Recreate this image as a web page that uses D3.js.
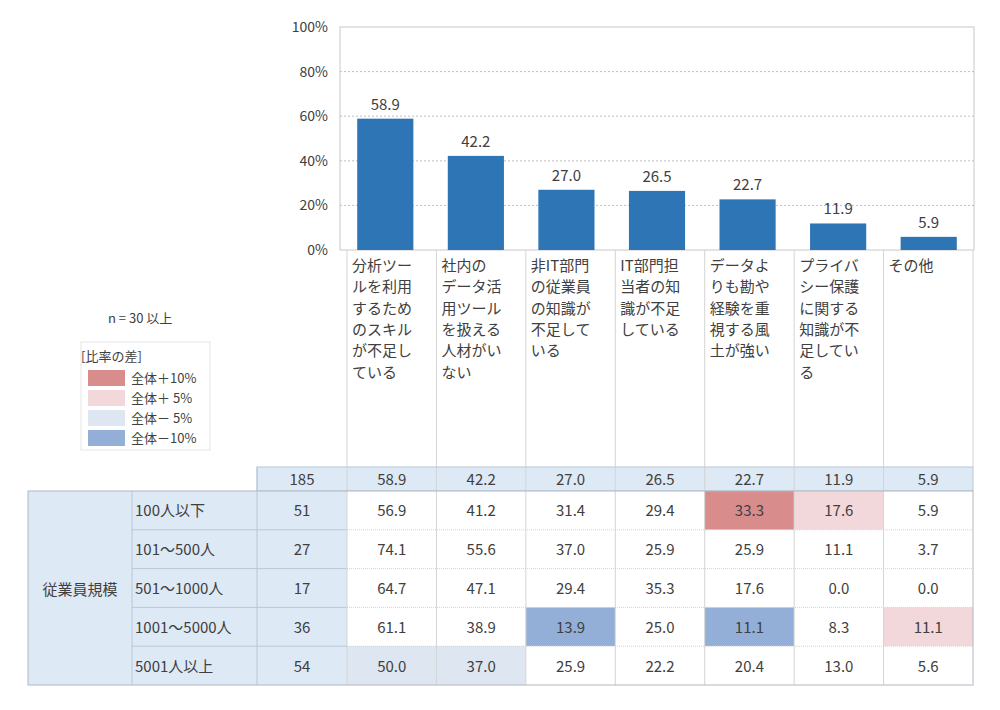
<!DOCTYPE html>
<html><head><meta charset="utf-8">
<script src="https://cdn.jsdelivr.net/npm/d3@7"></script>
<style>body{margin:0;background:#fff}text{font-family:"Noto Sans CJK JP",sans-serif;fill:#404040}</style>
</head><body><svg id="c" width="1000" height="710"></svg>
<script>
const categories=["分析ツールを利用するためのスキルが不足している","社内のデータ活用ツールを扱える人材がいない","非IT部門の従業員の知識が不足している","IT部門担当者の知識が不足している","データよりも勘や経験を重視する風土が強い","プライバシー保護に関する知識が不足している","その他"];
const labelLines=[["分析ツー","ルを利用","するため","のスキル","が不足し","ている"],["社内の","データ活","用ツール","を扱える","人材がい","ない"],["非IT部門","の従業員","の知識が","不足して","いる"],["IT部門担","当者の知","識が不足","している"],["データよ","りも勘や","経験を重","視する風","土が強い"],["プライバ","シー保護","に関する","知識が不","足してい","る"],["その他"]];
const totalN=185;
const totalValues=[58.9,42.2,27.0,26.5,22.7,11.9,5.9];
const groupLabel="従業員規模";
const rowLabels=["100人以下","101～500人","501～1000人","1001～5000人","5001人以上"];
const rowN=[51,27,17,36,54];
const rowValues=[[56.9,41.2,31.4,29.4,33.3,17.6,5.9],[74.1,55.6,37.0,25.9,25.9,11.1,3.7],[64.7,47.1,29.4,35.3,17.6,0.0,0.0],[61.1,38.9,13.9,25.0,11.1,8.3,11.1],[50.0,37.0,25.9,22.2,20.4,13.0,5.6]];
const yTicks=[0,20,40,60,80,100];
const legendItems=["全体＋10%","全体＋ 5%","全体－ 5%","全体－10%"];
const legendColors=["#d98c8c","#f2d8da","#dde6f1","#93afd8"];

const svg=d3.select("#c");
const x=d3.scaleBand().domain(categories).range([340,974]).paddingInner(0.38).paddingOuter(0.19);
const y=d3.scaleLinear().domain([0,100]).range([250,27]);
// plot border
svg.append("rect").attr("x",340).attr("y",27).attr("width",634).attr("height",223).attr("fill","none").attr("stroke","#c8c8c8");
yTicks.forEach(t=>{
  if(t>0&&t<100) svg.append("line").attr("x1",340).attr("x2",974).attr("y1",y(t)).attr("y2",y(t)).attr("stroke","#bfbfbf").attr("stroke-dasharray","2,2");
  svg.append("text").attr("x",328).attr("y",y(t)+5).attr("text-anchor","end").attr("font-size",14).text(t+"%");
});
svg.selectAll(".bar").data(totalValues).enter().append("rect").attr("x",(d,i)=>x(categories[i])).attr("width",x.bandwidth())
 .attr("y",d=>y(d)).attr("height",d=>250-y(d)).attr("fill","#2e75b6");
svg.selectAll(".vl").data(totalValues).enter().append("text").attr("x",(d,i)=>x(categories[i])+x.bandwidth()/2).attr("y",d=>y(d)-9)
 .attr("text-anchor","middle").attr("font-size",15).text(d=>d.toFixed(1));

// table geometry
const col=d3.scaleBand().domain(categories).range([347,973]);
const rowY=d3.scaleBand().domain(rowLabels).range([491,685]);
const headTop=467, headBot=491;
// label area vertical lines
const grid="#d4d4d4";
categories.forEach((c,i)=>{
  svg.append("line").attr("x1",col(c)).attr("x2",col(c)).attr("y1",250).attr("y2",headTop).attr("stroke",grid);
  labelLines[i].forEach((l,j)=>svg.append("text").attr("x",col(c)+5).attr("y",271+j*21.3).attr("font-size",15).text(l));
});
svg.append("line").attr("x1",973).attr("x2",973).attr("y1",250).attr("y2",headTop).attr("stroke",grid);
// header row
svg.append("rect").attr("x",257).attr("y",headTop).attr("width",716).attr("height",headBot-headTop).attr("fill","#dde9f5").attr("stroke","#b8c8d8");
svg.append("text").attr("x",302).attr("y",485).attr("text-anchor","middle").attr("font-size",15).text(totalN);
totalValues.forEach((v,i)=>svg.append("text").attr("x",col(categories[i])+col.bandwidth()/2).attr("y",485).attr("text-anchor","middle").attr("font-size",15).text(v.toFixed(1)));
// row label cells
svg.append("rect").attr("x",28).attr("y",491).attr("width",319).attr("height",194).attr("fill","#dde9f5");
svg.append("text").attr("x",80).attr("y",595).attr("text-anchor","middle").attr("font-size",15).text(groupLabel);
function cellColor(r,i){
  if(rowN[r]<30) return "#fff";
  const d=rowValues[r][i]-totalValues[i];
  if(d>=10) return legendColors[0]; if(d>=5) return legendColors[1];
  if(d<=-10) return legendColors[3]; if(d<=-5) return legendColors[2]; return "#fff";
}
rowLabels.forEach((rl,r)=>{
  const yy=rowY(rl),h=rowY.bandwidth();
  svg.append("text").attr("x",135).attr("y",yy+h/2+6).attr("font-size",15).text(rl);
  svg.append("text").attr("x",302).attr("y",yy+h/2+6).attr("text-anchor","middle").attr("font-size",15).text(rowN[r]);
  rowValues[r].forEach((v,i)=>{
    svg.append("rect").attr("x",col(categories[i])).attr("y",yy).attr("width",col.bandwidth()).attr("height",h).attr("fill",cellColor(r,i));
    svg.append("text").attr("x",col(categories[i])+col.bandwidth()/2).attr("y",yy+h/2+6).attr("text-anchor","middle").attr("font-size",15).text(v.toFixed(1));
  });
  if(r>0){
    svg.append("line").attr("x1",132).attr("x2",347).attr("y1",yy).attr("y2",yy).attr("stroke","#b8c8d8");
    svg.append("line").attr("x1",347).attr("x2",973).attr("y1",yy).attr("y2",yy).attr("stroke",grid).attr("stroke-dasharray","1,1");
  }
});
categories.forEach(c=>svg.append("line").attr("x1",col(c)).attr("x2",col(c)).attr("y1",headTop).attr("y2",685).attr("stroke",grid));
[132,257].forEach(xx=>svg.append("line").attr("x1",xx).attr("x2",xx).attr("y1",xx==257?headTop:491).attr("y2",685).attr("stroke","#b8c8d8"));
svg.append("rect").attr("x",28).attr("y",491).attr("width",945).attr("height",194).attr("fill","none").attr("stroke","#b0b8c0");

// n note and legend
svg.append("text").attr("x",108).attr("y",323).attr("font-size",13).text("n = 30 以上");
svg.append("rect").attr("x",81).attr("y",342).attr("width",129).attr("height",108).attr("fill","#fff").attr("stroke","#e6e6e6");
svg.append("text").attr("x",81).attr("y",361).attr("font-size",13).text("[比率の差]");
legendItems.forEach((t,i)=>{
  svg.append("rect").attr("x",88).attr("y",370+i*20).attr("width",37).attr("height",16).attr("fill",legendColors[i]);
  svg.append("text").attr("x",131).attr("y",383+i*20).attr("font-size",13).text(t);
});
</script></body></html>
